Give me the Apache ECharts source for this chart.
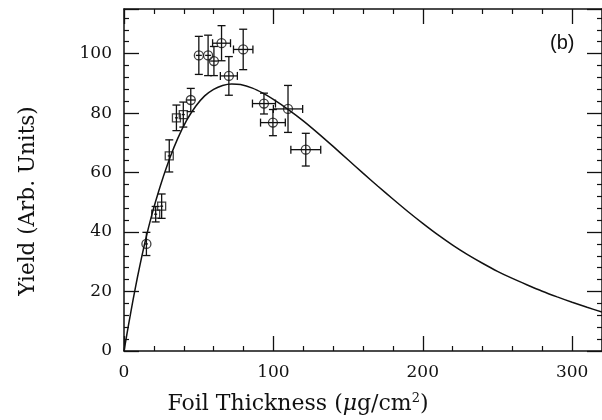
<!DOCTYPE html>
<html>
<head>
<meta charset="utf-8">
<script src="https://cdn.jsdelivr.net/npm/echarts@6/dist/echarts.min.js"></script>
<style>
  html, body { margin: 0; padding: 0; background: #fff; }
  #main { width: 602px; height: 420px; }
</style>
</head>
<body>
<div id="main"></div>
<script>
// measured points (foil thickness, yield) with error bars
var thickness = [15, 21.2, 25.2, 30.3, 35.1, 39.7, 44.7, 50.1, 56.3, 60.2, 65.3, 70.2, 79.8, 93.7, 99.7, 109.8, 121.7];
var yields    = [36, 46, 48.7, 65.6, 78.4, 79.5, 84.4, 99.4, 99.4, 97.5, 103.5, 92.5, 101.4, 83.2, 76.8, 81.4, 67.7];
var xErr      = [1, 1, 1, 1, 1, 1, 3, 2, 2, 2.5, 6, 5.7, 6.5, 7.7, 8.3, 9.8, 10];
var yErr      = [3.9, 2.6, 4.1, 5.4, 4.3, 4.2, 3.9, 6.4, 6.8, 4.9, 5.9, 6.5, 6.8, 3.5, 4.4, 7.9, 5.5];
var shapes    = ['circle', 'rect', 'rect', 'rect', 'rect', 'rect', 'circle', 'circle', 'circle', 'circle',
                 'circle', 'circle', 'circle', 'circle', 'circle', 'circle', 'circle'];

// fitted curve
var curveX = [0, 3, 6, 9, 12, 15, 18, 21, 25, 31, 36, 42, 48, 54, 60, 66, 72, 78, 86, 93, 100, 110, 120, 130,
              140, 150, 160, 170, 180, 190, 200, 210, 220, 230, 240, 250, 260, 270, 280, 290, 300, 310, 320];
var curveY = [0, 8.7, 17, 24.8, 32, 38.6, 44.6, 50, 56.6, 65.3, 71.5, 77.6, 82.3, 85.8, 88, 89.3, 89.8, 89.6, 88.4,
              86.7, 84.6, 81.2, 77.4, 73.2, 68.8, 64.3, 59.8, 55.4, 51.1, 46.9, 42.9, 39.1, 35.6, 32.4, 29.5, 26.8,
              24.4, 22.2, 20.1, 18.2, 16.4, 14.7, 13.1];

var xTicks = { min: 0, max: 320, interval: 100 };
var yTicks = { min: 0, max: 115, interval: 20 };

var ink = '#111';
var sansFont = '"Liberation Sans", Arial, sans-serif';
var serifFont = '"DejaVu Serif", "Liberation Serif", serif';

var chart = echarts.init(document.getElementById('main'));

function axisBase(show) {
    return {
        type: 'value',
        axisLine: { show: true, onZero: false, lineStyle: { color: ink, width: 1.5 } },
        axisTick: { show: true, inside: true, length: 15, lineStyle: { color: ink, width: 1.3 } },
        minorTick: { show: true, splitNumber: 5, length: 5, lineStyle: { color: ink, width: 1.2 } },
        splitLine: { show: false },
        axisLabel: { show: show, color: ink, fontFamily: serifFont, fontSize: 17 }
    };
}

var xBottom = Object.assign(axisBase(true), xTicks, {
    position: 'bottom',
    name: 'Foil Thickness ({i|μ}g/cm{sup|2})',
    nameLocation: 'middle',
    nameGap: 41,
    nameTextStyle: {
        color: ink, fontFamily: serifFont, fontSize: 22,
        padding: [0, 130, 0, 0],
        rich: {
            i: { fontFamily: serifFont, fontStyle: 'italic', fontSize: 22, color: ink },
            sup: { fontFamily: serifFont, fontSize: 13, verticalAlign: 'top', padding: [0, 0, 11, 0], color: ink }
        }
    }
});
xBottom.axisLabel.margin = 13;
var xTop = Object.assign(axisBase(false), xTicks, { position: 'top' });

var yLeft = Object.assign(axisBase(true), yTicks, {
    position: 'left',
    name: 'Yield (Arb. Units)',
    nameLocation: 'middle',
    nameGap: 85,
    nameTextStyle: { color: ink, fontFamily: serifFont, fontSize: 21.5, padding: [0, 42, 0, 0] }
});
yLeft.axisLabel.margin = 12;
yLeft.axisLabel.showMaxLabel = false;
var yRight = Object.assign(axisBase(false), yTicks, { position: 'right' });

function renderErr(params, api) {
    var x = api.value(0), y = api.value(1), xe = api.value(2), ye = api.value(3);
    var top = api.coord([x, y + ye]);
    var bot = api.coord([x, y - ye]);
    var lft = api.coord([x - xe, y]);
    var rgt = api.coord([x + xe, y]);
    var cap = 4;
    var st = { stroke: ink, lineWidth: 1.3 };
    var kids = [
        { type: 'line', shape: { x1: top[0], y1: top[1], x2: bot[0], y2: bot[1] }, style: st },
        { type: 'line', shape: { x1: top[0] - cap, y1: top[1], x2: top[0] + cap, y2: top[1] }, style: st },
        { type: 'line', shape: { x1: bot[0] - cap, y1: bot[1], x2: bot[0] + cap, y2: bot[1] }, style: st },
        { type: 'line', shape: { x1: lft[0], y1: lft[1], x2: rgt[0], y2: rgt[1] }, style: st }
    ];
    if (rgt[0] - lft[0] > 10) {
        kids.push({ type: 'line', shape: { x1: lft[0], y1: lft[1] - cap, x2: lft[0], y2: lft[1] + cap }, style: st });
        kids.push({ type: 'line', shape: { x1: rgt[0], y1: rgt[1] - cap, x2: rgt[0], y2: rgt[1] + cap }, style: st });
    }
    return { type: 'group', children: kids };
}

var errData = thickness.map(function (t, i) { return [t, yields[i], xErr[i], yErr[i]]; });
var circleData = [], squareData = [];
thickness.forEach(function (t, i) {
    if (shapes[i] === 'rect') squareData.push([t, yields[i]]);
    else circleData.push([t, yields[i]]);
});

var option = {
    backgroundColor: '#fff',
    animation: false,
    title: {
        text: '(b)',
        left: 545, top: 28,
        textStyle: { color: ink, fontFamily: sansFont, fontSize: 20, fontWeight: 'normal' }
    },
    grid: { left: 124, right: 0, top: 9, bottom: 61, containLabel: false },
    xAxis: [xBottom, xTop],
    yAxis: [yLeft, yRight],
    series: [
        {
            name: 'fit',
            type: 'line',
            data: curveX.map(function (x, i) { return [x, curveY[i]]; }),
            smooth: 0.3,
            showSymbol: false,
            lineStyle: { color: ink, width: 1.5 },
            z: 2
        },
        {
            name: 'errors',
            type: 'custom',
            renderItem: renderErr,
            data: errData,
            z: 3
        },
        {
            name: 'circles',
            type: 'scatter',
            data: circleData,
            symbol: 'circle',
            symbolSize: 9,
            itemStyle: { color: 'rgba(0,0,0,0)', borderColor: ink, borderWidth: 1.3 },
            z: 4
        },
        {
            name: 'squares',
            type: 'scatter',
            data: squareData,
            symbol: 'rect',
            symbolSize: 8,
            itemStyle: { color: 'rgba(0,0,0,0)', borderColor: ink, borderWidth: 1.3 },
            z: 4
        }
    ]
};

chart.setOption(option);
</script>
</body>
</html>
